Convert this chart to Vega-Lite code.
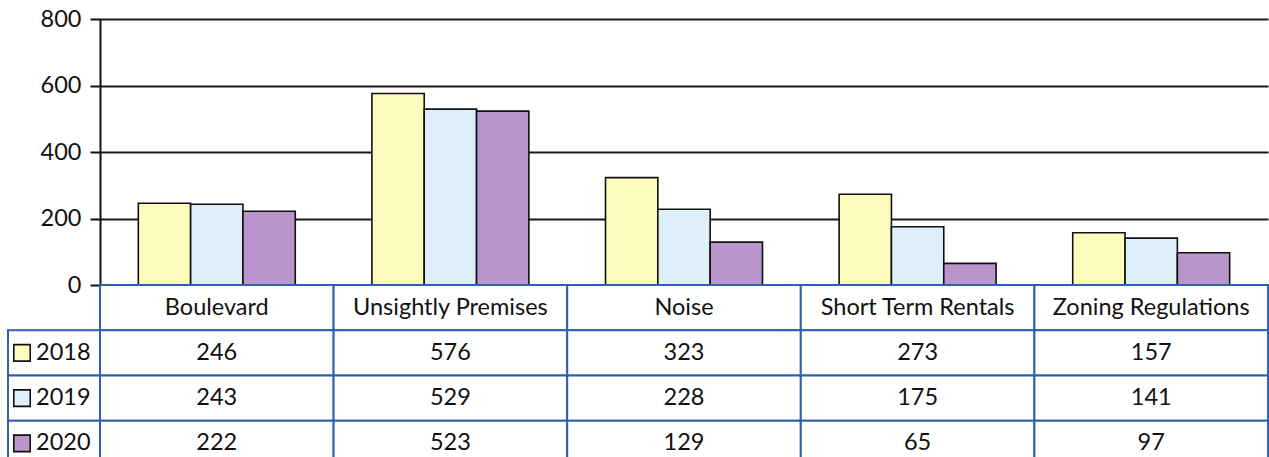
{
  "$schema": "https://vega.github.io/schema/vega-lite/v6.json",
  "padding": {"left": 7, "top": 7, "right": 0, "bottom": 0},
  "background": "white",
  "config": {"view": {"stroke": null}, "font": "Lato", "text": {"font": "Lato"}},
  "datasets": {
    "bars": [
      {"category": "Boulevard", "year": "2018", "value": 246},
      {"category": "Boulevard", "year": "2019", "value": 243},
      {"category": "Boulevard", "year": "2020", "value": 222},
      {"category": "Unsightly Premises", "year": "2018", "value": 576},
      {"category": "Unsightly Premises", "year": "2019", "value": 529},
      {"category": "Unsightly Premises", "year": "2020", "value": 523},
      {"category": "Noise", "year": "2018", "value": 323},
      {"category": "Noise", "year": "2019", "value": 228},
      {"category": "Noise", "year": "2020", "value": 129},
      {"category": "Short Term Rentals", "year": "2018", "value": 273},
      {"category": "Short Term Rentals", "year": "2019", "value": 175},
      {"category": "Short Term Rentals", "year": "2020", "value": 65},
      {"category": "Zoning Regulations", "year": "2018", "value": 157},
      {"category": "Zoning Regulations", "year": "2019", "value": 141},
      {"category": "Zoning Regulations", "year": "2020", "value": 97}
    ],
    "categories": [
      {"category": "Boulevard"},
      {"category": "Unsightly Premises"},
      {"category": "Noise"},
      {"category": "Short Term Rentals"},
      {"category": "Zoning Regulations"}
    ],
    "years": [{"year": "2018"}, {"year": "2019"}, {"year": "2020"}],
    "blank": [{"k": 1}]
  },
  "columns": 2,
  "spacing": 0,
  "bounds": "flush",
  "resolve": {"scale": {"x": "independent", "y": "independent"}},
  "concat": [
    {
      "width": 92, "height": 266,
      "data": {"name": "blank"},
      "mark": {"type": "point", "opacity": 0},
      "encoding": {}
    },
    {
      "width": 1168, "height": 266,
      "data": {"name": "bars"},
      "mark": {"type": "bar", "stroke": "#111111", "strokeWidth": 1.6},
      "encoding": {
        "x": {"field": "category", "type": "nominal",
              "sort": ["Boulevard", "Unsightly Premises", "Noise", "Short Term Rentals", "Zoning Regulations"],
              "scale": {"paddingInner": 0.328, "paddingOuter": 0.164}, "axis": null},
        "xOffset": {"field": "year", "type": "nominal", "scale": {"paddingInner": 0, "paddingOuter": 0}},
        "y": {"field": "value", "type": "quantitative",
              "scale": {"domain": [0, 800], "nice": false},
              "axis": {"values": [0, 200, 400, 600, 800], "title": null, "grid": true,
                       "gridColor": "#1a1a1a", "gridWidth": 1.8, "gridOpacity": 1,
                       "domainColor": "#111111", "domainWidth": 2,
                       "tickColor": "#111111", "tickWidth": 2, "tickSize": 10,
                       "labelFont": "Lato", "labelFontSize": 23.5, "labelColor": "#111111", "labelPadding": 9}},
        "color": {"field": "year", "type": "nominal",
                  "scale": {"domain": ["2018", "2019", "2020"], "range": ["#FEFBBE", "#DEEFFA", "#BA95CB"]},
                  "legend": null}
      }
    },
    {
      "width": 92, "height": 181,
      "data": {"name": "years"},
      "encoding": {
        "y": {"field": "year", "type": "nominal",
              "scale": {"domain": ["header", "2018", "2019", "2020"], "paddingInner": 0, "paddingOuter": 0},
              "axis": null}
      },
      "layer": [
        {"mark": {"type": "rect", "fill": "white", "stroke": "#2E60B4", "strokeWidth": 2}},
        {"mark": {"type": "point", "shape": "square", "filled": true, "size": 270, "stroke": "#111111", "strokeWidth": 1.6, "opacity": 1},
         "encoding": {
           "x": {"datum": "swatch", "type": "nominal", "scale": {"type": "point", "domain": ["swatch", "label"], "range": [14, 28], "padding": 0}, "axis": null},
           "color": {"field": "year", "type": "nominal",
                     "scale": {"domain": ["2018", "2019", "2020"], "range": ["#FEFBBE", "#DEEFFA", "#BA95CB"]},
                     "legend": null}
         }},
        {"mark": {"type": "text", "align": "left", "baseline": "middle", "font": "Lato", "fontSize": 23.5, "color": "#111111"},
         "encoding": {
           "x": {"datum": "label", "type": "nominal", "scale": {"type": "point", "domain": ["swatch", "label"], "range": [14, 28], "padding": 0}, "axis": null},
           "text": {"field": "year", "type": "nominal"}
         }}
      ]
    },
    {
      "width": 1168, "height": 181,
      "encoding": {
        "x": {"field": "category", "type": "nominal",
              "sort": ["Boulevard", "Unsightly Premises", "Noise", "Short Term Rentals", "Zoning Regulations"],
              "scale": {"domain": ["Boulevard", "Unsightly Premises", "Noise", "Short Term Rentals", "Zoning Regulations"], "paddingInner": 0, "paddingOuter": 0},
              "axis": null}
      },
      "layer": [
        {
          "data": {"name": "categories"},
          "mark": {"type": "rect", "fill": "white", "stroke": "#2E60B4", "strokeWidth": 2},
          "encoding": {
            "y": {"datum": "header", "type": "nominal",
                  "scale": {"domain": ["header", "2018", "2019", "2020"], "paddingInner": 0, "paddingOuter": 0},
                  "axis": null}
          }
        },
        {
          "data": {"name": "categories"},
          "mark": {"type": "text", "baseline": "middle", "font": "Lato", "fontSize": 23.5, "color": "#111111"},
          "encoding": {
            "y": {"datum": "header", "type": "nominal"},
            "text": {"field": "category", "type": "nominal"}
          }
        },
        {
          "data": {"name": "bars"},
          "mark": {"type": "rect", "fill": "white", "stroke": "#2E60B4", "strokeWidth": 2},
          "encoding": {
            "y": {"field": "year", "type": "nominal"}
          }
        },
        {
          "data": {"name": "bars"},
          "mark": {"type": "text", "baseline": "middle", "font": "Lato", "fontSize": 23.5, "color": "#111111"},
          "encoding": {
            "y": {"field": "year", "type": "nominal"},
            "text": {"field": "value", "type": "quantitative"}
          }
        }
      ]
    }
  ]
}
